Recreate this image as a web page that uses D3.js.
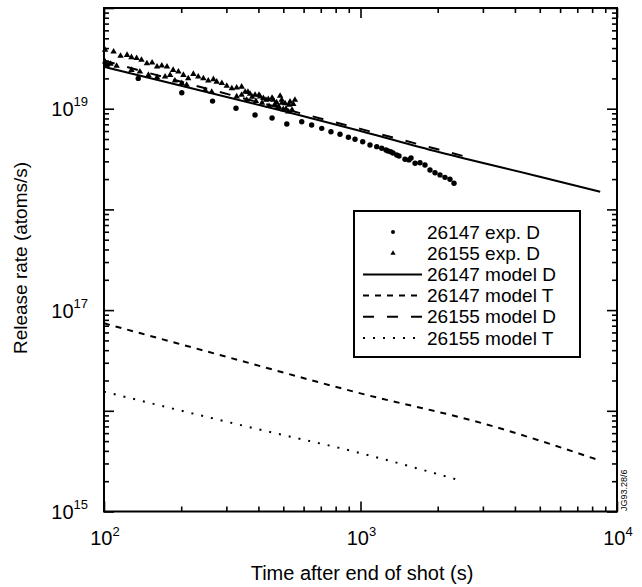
<!DOCTYPE html>
<html>
<head>
<meta charset="utf-8">
<script src="https://cdn.jsdelivr.net/npm/d3@7"></script>
<style>
  body { margin: 0; background: #fff; }
  text { font-family: "Liberation Sans", Arial, sans-serif; fill: #000; }
</style>
</head>
<body>
<div id="chart"></div>
<script>
// 26147 exp. D (circles)
const exp26147T = [103, 136, 201, 265, 327, 388, 452, 516, 590, 645, 706, 767, 832, 897, 952, 1020,
                   1089, 1157, 1210, 1257, 1280, 1311, 1339, 1384, 1413, 1491, 1545, 1574, 1632, 1706,
                   1784, 1866, 1952, 2042, 2135, 2233, 2315];
const exp26147V = [2.72e19, 2.00e19, 1.44e19, 1.19e19, 1.01e19, 8.65e18, 8.09e18, 7.05e18, 7.43e18, 6.89e18,
                   6.38e18, 5.91e18, 5.57e18, 5.20e18, 4.97e18, 4.70e18, 4.36e18, 4.20e18, 4.05e18, 3.89e18,
                   3.80e18, 3.74e18, 3.63e18, 3.47e18, 3.39e18, 3.15e18, 3.10e18, 3.24e18, 2.87e18, 2.91e18,
                   2.76e18, 2.46e18, 2.31e18, 2.20e18, 2.08e18, 1.99e18, 1.82e18];

// 26155 exp. D (triangles)
const exp26155T = [101, 109, 116, 123, 128, 134, 140, 147, 154, 161, 168, 176, 186, 195, 204, 213, 223, 233,
                   244, 255, 267, 275, 288, 301, 315, 329, 344, 355, 371, 388, 406, 418, 437, 457, 471, 493,
                   508, 531, 547,
                   101, 106, 112, 128, 138, 149, 161, 173, 181, 189, 201, 210, 248, 263, 329, 344, 360, 478, 500, 523,
                   364, 378, 391, 402, 413, 428, 440, 452, 464, 481, 494, 512, 526, 541, 555, 486];
const exp26155V = [3.83e19, 3.68e19, 3.34e19, 3.41e19, 3.24e19, 3.17e19, 3.05e19, 2.82e19, 2.86e19, 2.61e19,
                   2.67e19, 2.61e19, 2.42e19, 2.33e19, 2.16e19, 2.00e19, 2.21e19, 2.08e19, 2.00e19, 1.90e19,
                   1.96e19, 1.85e19, 1.79e19, 1.68e19, 1.59e19, 1.62e19, 1.65e19, 1.47e19, 1.40e19, 1.37e19,
                   1.32e19, 1.27e19, 1.24e19, 1.22e19, 1.15e19, 1.22e19, 1.13e19, 1.17e19, 1.11e19,
                   2.93e19, 2.78e19, 2.66e19, 2.42e19, 2.33e19, 2.16e19, 2.05e19, 2.08e19, 2.16e19, 1.90e19,
                   1.79e19, 1.72e19, 1.53e19, 1.47e19, 1.32e19, 1.37e19, 1.22e19, 1.03e19, 9.86e18, 9.33e18,
                   1.47e19, 1.31e19, 1.19e19, 1.37e19, 1.14e19, 1.22e19, 1.06e19, 1.28e19, 1.11e19, 1.04e19,
                   1.14e19, 9.93e18, 1.09e19, 9.70e18, 1.22e19, 1.34e19];

// model curves
const model26147DT = [100, 200, 500, 1000, 2000, 5000, 8600];
const model26147DV = [2.61e19, 1.69e19, 9.5e18, 6.0e18, 3.73e18, 2.11e18, 1.5e18];
const model26147TT = [100, 300, 1000, 3000, 8600];
const model26147TV = [7.4e16, 3.44e16, 1.49e16, 7.5e15, 3.2e15];
const model26155DT = [100, 200, 500, 1000, 2000, 2500];
const model26155DV = [3.0e19, 1.85e19, 1.0e19, 6.3e18, 3.95e18, 3.4e18];
const model26155TT = [100, 385, 1000, 2500];
const model26155TV = [1.55e16, 6.7e15, 3.8e15, 2.0e15];

const legendLabels = ["26147 exp. D", "26155 exp. D", "26147 model D", "26147 model T", "26155 model D", "26155 model T"];
const xTickExp = [2, 3, 4];
const yTickExp = [15, 17, 19];

const W = 642, H = 587;
const svg = d3.select("#chart").append("svg").attr("width", W).attr("height", H);

const x = d3.scaleLog().domain([100, 10000]).range([104, 617]);
const y = d3.scaleLog().domain([1e15, 1e20]).range([511.5, 8]);

const minorX = [], minorY = [];
for (let d = 2; d < 4; d++) for (let k = 2; k <= 9; k++) minorX.push(k * Math.pow(10, d));
for (let d = 15; d < 20; d++) for (let k = 2; k <= 9; k++) minorY.push(k * Math.pow(10, d));
const majorX = [100, 1000, 10000];
const majorY = [1e15, 1e16, 1e17, 1e18, 1e19, 1e20];

function drawAxis(gen, scale, vals, len, tr) {
  const g = svg.append("g").attr("transform", tr)
    .call(gen(scale).tickValues(vals).tickSize(-len).tickFormat(""));
  g.select(".domain").remove();
  g.selectAll("line").attr("stroke", "#000").attr("stroke-width", 1.6);
}
// inward ticks on all four sides
[[majorX, 10], [minorX, 5]].forEach(([v, l]) => {
  drawAxis(d3.axisBottom, x, v, l, "translate(0,511.5)");
  drawAxis(d3.axisTop, x, v, l, "translate(0,8)");
});
[[majorY, 10], [minorY, 5]].forEach(([v, l]) => {
  drawAxis(d3.axisLeft, y, v, l, "translate(104,0)");
  drawAxis(d3.axisRight, y, v, l, "translate(617,0)");
});

svg.append("rect").attr("x", 104).attr("y", 8).attr("width", 513).attr("height", 503.5)
  .attr("fill", "none").attr("stroke", "#000").attr("stroke-width", 2);

// tick labels
xTickExp.forEach(e => {
  const t = svg.append("text").attr("x", x(Math.pow(10, e)) + 1).attr("y", 545)
    .attr("text-anchor", "middle").attr("font-size", 20).text("10");
  t.append("tspan").attr("dy", -9).attr("font-size", 13).text(e);
});
yTickExp.forEach(e => {
  const t = svg.append("text").attr("x", 88).attr("y", y(Math.pow(10, e)) + 7.5)
    .attr("text-anchor", "end").attr("font-size", 20).text("10");
  t.append("tspan").attr("dy", -10).attr("font-size", 13).text(e);
});

// axis titles
svg.append("text").attr("x", 362).attr("y", 580).attr("text-anchor", "middle")
  .attr("font-size", 20).text("Time after end of shot (s)");
svg.append("text").attr("transform", "translate(27,258) rotate(-90)").attr("text-anchor", "middle")
  .attr("font-size", 19).text("Release rate (atoms/s)");
svg.append("text").attr("transform", "translate(627,511) rotate(-90)").attr("font-size", 9)
  .text("JG93.28/6");

// model lines
const line = d3.line().x(d => x(d[0])).y(d => y(d[1])).curve(d3.curveMonotoneX);
const models = [
  [model26147DT, model26147DV, null],
  [model26147TT, model26147TV, "6,6"],
  [model26155DT, model26155DV, "11,13"],
  [model26155TT, model26155TV, "2,8"]
];
models.forEach(([t, v, dash]) => {
  svg.append("path").datum(d3.zip(t, v)).attr("d", line)
    .attr("fill", "none").attr("stroke", "#000").attr("stroke-width", 2)
    .attr("stroke-dasharray", dash);
});

// experimental points
svg.append("g").selectAll("path").data(d3.zip(exp26155T, exp26155V)).join("path")
  .attr("transform", d => `translate(${x(d[0])},${y(d[1])})`)
  .attr("d", d3.symbol(d3.symbolTriangle).size(18)).attr("fill", "#000");
svg.append("g").selectAll("circle").data(d3.zip(exp26147T, exp26147V)).join("circle")
  .attr("cx", d => x(d[0])).attr("cy", d => y(d[1])).attr("r", 2.7).attr("fill", "#000");

// legend
const lg = svg.append("g");
lg.append("rect").attr("x", 354).attr("y", 211).attr("width", 226).attr("height", 146)
  .attr("fill", "#fff").attr("stroke", "#000").attr("stroke-width", 2);
const dashes = [null, null, null, "6,6", "11,13", "2,8"];
legendLabels.forEach((lab, i) => {
  const cy = 232 + i * 21.2;
  lg.append("text").attr("x", 427).attr("y", cy + 6.5).attr("font-size", 19).text(lab);
  if (i === 0) lg.append("circle").attr("cx", 393).attr("cy", cy).attr("r", 2);
  else if (i === 1) lg.append("path").attr("transform", `translate(393,${cy})`)
    .attr("d", d3.symbol(d3.symbolTriangle).size(12));
  else lg.append("line").attr("x1", 363).attr("x2", 422).attr("y1", cy).attr("y2", cy)
    .attr("stroke", "#000").attr("stroke-width", 2).attr("stroke-dasharray", dashes[i]);
});
</script>
</body>
</html>
